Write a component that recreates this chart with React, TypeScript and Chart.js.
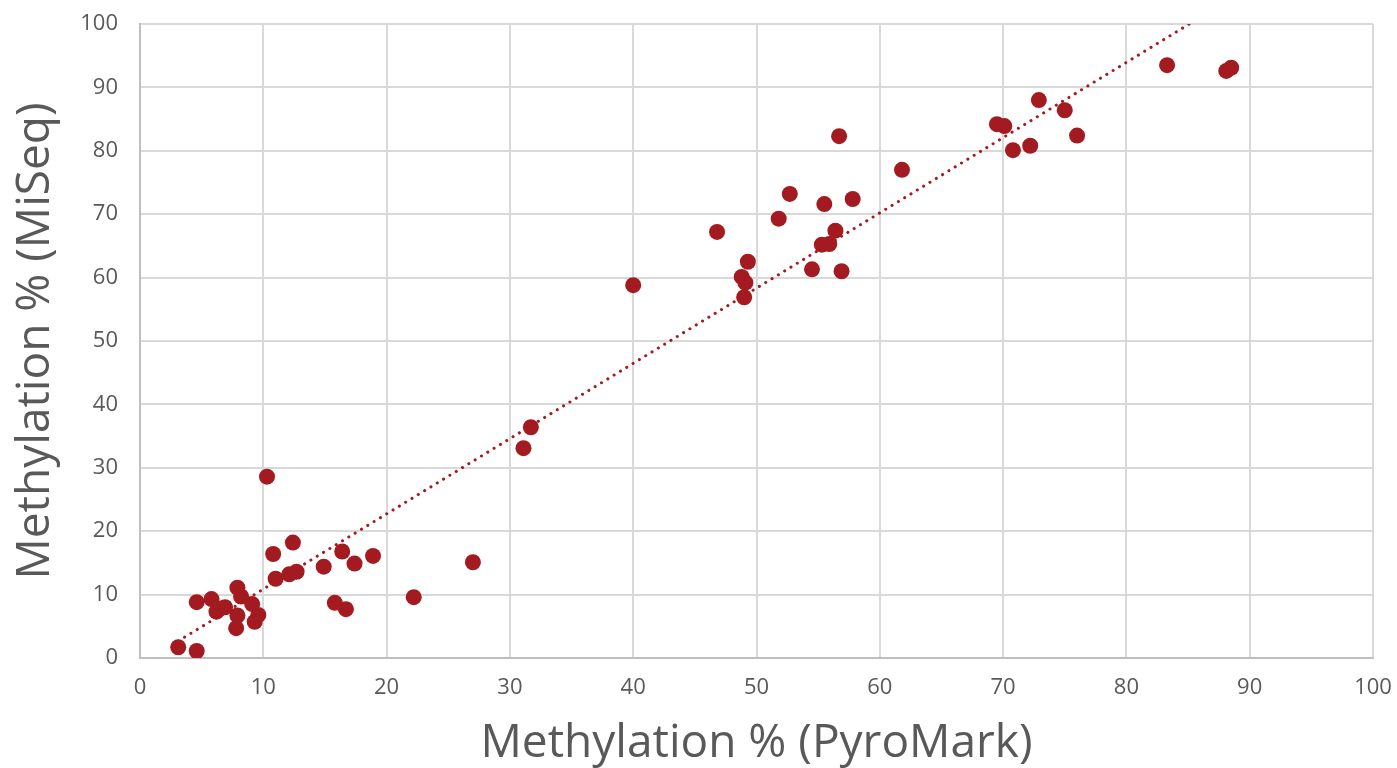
import React, { useEffect, useRef } from "react";
import { Chart, registerables } from "chart.js";

Chart.register(...registerables);

const pyroMark: number[] = [
  3.1, 4.6, 4.6, 5.8, 6.5, 6.2, 6.9, 7.9, 8.2, 9.1, 7.9, 7.8, 9.6, 9.3, 10.3, 10.8, 11.0, 12.1, 12.7,
  12.4, 14.9, 16.4, 17.4, 18.9, 15.8, 16.7, 22.2, 27.0, 31.1, 31.7, 40.0, 46.8, 49.3, 48.8, 49.1,
  49.0, 51.8, 52.7, 55.5, 57.8, 56.7, 56.4, 55.3, 55.9, 54.5, 56.9, 61.8, 69.5, 70.1, 70.8, 72.2,
  72.9, 75.0, 76.0, 83.3, 88.1, 88.5,
];
const miSeq: number[] = [
  1.7, 1.1, 8.8, 9.3, 7.8, 7.3, 8.0, 11.1, 9.7, 8.5, 6.7, 4.7, 6.8, 5.7, 28.6, 16.4, 12.5, 13.2, 13.6,
  18.2, 14.4, 16.8, 14.9, 16.1, 8.7, 7.7, 9.6, 15.1, 33.1, 36.4, 58.8, 67.2, 62.5, 60.1, 59.2, 56.9,
  69.3, 73.2, 71.6, 72.4, 82.3, 67.4, 65.2, 65.3, 61.3, 61.0, 77.0, 84.2, 83.9, 80.1, 80.8, 88.0,
  86.4, 82.4, 93.5, 92.6, 93.1,
];
const axisTicks: number[] = [0, 10, 20, 30, 40, 50, 60, 70, 80, 90, 100];
const xTitle = "Methylation % (PyroMark)";
const yTitle = "Methylation % (MiSeq)";

function linearFit(xs: number[], ys: number[]) {
  const n = xs.length;
  const mx = xs.reduce((a, b) => a + b, 0) / n;
  const my = ys.reduce((a, b) => a + b, 0) / n;
  let sxy = 0;
  let sxx = 0;
  for (let i = 0; i < n; i++) {
    sxy += (xs[i] - mx) * (ys[i] - my);
    sxx += (xs[i] - mx) * (xs[i] - mx);
  }
  const slope = sxy / sxx;
  return { slope, intercept: my - slope * mx };
}

export default function App() {
  const ref = useRef<HTMLCanvasElement | null>(null);
  useEffect(() => {
    document.body.style.margin = "0";
    const ctx = ref.current!;
    const fit = linearFit(pyroMark, miSeq);
    const minX = Math.min(...pyroMark);
    const maxX = Math.max(...pyroMark);
    const trend = [minX, maxX].map((x) => ({ x, y: fit.slope * x + fit.intercept }));
    const points = pyroMark.map((x, i) => ({ x, y: miSeq[i] }));
    const red = "#a31b21";
    const fontFamily = "'Open Sans', 'Noto Sans', sans-serif";
    const chart = new Chart(ctx, {
      type: "scatter",
      data: {
        datasets: [
          {
            label: "Trend",
            data: trend,
            showLine: true,
            borderColor: red,
            borderWidth: 3,
            borderDash: [0.1, 7.3],
            borderCapStyle: "round",
            pointRadius: 0,
            fill: false,
          },
          {
            label: "Samples",
            data: points,
            backgroundColor: red,
            borderColor: red,
            pointRadius: 8,
            pointBorderWidth: 0,
          },
        ],
      },
      options: {
        animation: false,
        responsive: false,
        maintainAspectRatio: false,
        layout: { padding: { top: 24, right: 24, left: 0, bottom: 0 } },
        plugins: { legend: { display: false }, tooltip: { enabled: false } },
        scales: {
          x: {
            type: "linear",
            min: 0,
            max: 100,
            afterBuildTicks: (s: any) => {
              s.ticks = axisTicks.map((v) => ({ value: v }));
            },
            afterFit: (s: any) => {
              s.height = 110;
              s.paddingLeft = 0;
              s.paddingRight = 0;
            },
            grid: { color: "#d9d9d9", lineWidth: 2, drawTicks: false },
            border: { color: "#bfbfbf", width: 2 },
            ticks: { color: "#595959", font: { family: fontFamily, size: 22 }, padding: 17 },
            title: {
              display: true,
              text: xTitle,
              color: "#595959",
              font: { family: fontFamily, size: 46 },
              padding: { top: 0, bottom: -3 },
            },
          },
          y: {
            type: "linear",
            min: 0,
            max: 100,
            afterBuildTicks: (s: any) => {
              s.ticks = axisTicks.map((v) => ({ value: v }));
            },
            afterFit: (s: any) => {
              s.width = 140;
              s.paddingTop = 0;
              s.paddingBottom = 0;
            },
            grid: { color: "#d9d9d9", lineWidth: 2, drawTicks: false },
            border: { color: "#bfbfbf", width: 2 },
            ticks: { color: "#595959", font: { family: fontFamily, size: 22 }, padding: 22 },
            title: {
              display: true,
              text: yTitle,
              color: "#595959",
              font: { family: fontFamily, size: 46 },
              padding: { top: 8, bottom: 0 },
            },
          },
        },
      },
    } as any);
    return () => chart.destroy();
  }, []);
  return (
    <div style={{ position: "absolute", left: 0, top: 0, width: 1397, height: 768 }}>
      <canvas ref={ref} width={1397} height={768} style={{ width: 1397, height: 768 }} />
    </div>
  );
}
